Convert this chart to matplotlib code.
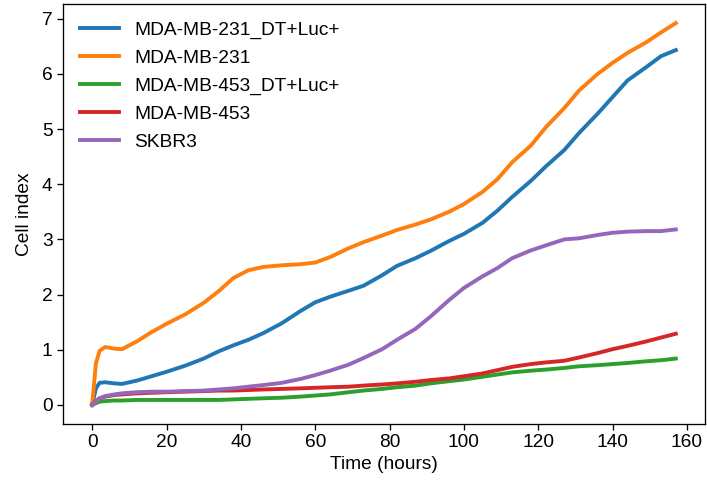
import matplotlib
matplotlib.use("Agg")
import matplotlib.pyplot as plt

plt.rcParams['font.family'] = ['Liberation Sans', 'DejaVu Sans']
plt.rcParams['font.size'] = 13.8
plt.rcParams['axes.linewidth'] = 0.95
plt.rcParams['xtick.major.size'] = 4
plt.rcParams['ytick.major.size'] = 4
plt.rcParams['xtick.major.width'] = 0.95
plt.rcParams['ytick.major.width'] = 0.95

# time points (hours)
hours = [0, 1, 2, 3.5, 6, 8, 12, 16, 20, 25, 30, 34, 38, 42, 46, 51, 56, 60, 64, 69,
         73, 78, 82, 87, 91, 96, 100, 105, 109, 113, 118, 122, 127, 131, 136, 140, 144, 149, 153, 157]

# cell index per line
mda231_dt = [0, 0.3, 0.4, 0.41, 0.39, 0.38, 0.44, 0.52, 0.6, 0.71, 0.84, 0.97, 1.08, 1.18, 1.3, 1.48, 1.7, 1.86, 1.96, 2.07,
             2.16, 2.35, 2.52, 2.66, 2.79, 2.97, 3.1, 3.3, 3.52, 3.77, 4.06, 4.32, 4.62, 4.93, 5.28, 5.58, 5.88, 6.12, 6.32, 6.43]
mda231 = [0, 0.75, 0.98, 1.05, 1.02, 1.01, 1.15, 1.32, 1.47, 1.64, 1.85, 2.06, 2.3, 2.44, 2.5, 2.53, 2.55, 2.58, 2.68, 2.84,
          2.95, 3.07, 3.17, 3.27, 3.36, 3.5, 3.64, 3.86, 4.09, 4.4, 4.7, 5.03, 5.38, 5.7, 6.0, 6.2, 6.38, 6.57, 6.75, 6.92]
mda453_dt = [0, 0.03, 0.06, 0.07, 0.08, 0.08, 0.09, 0.09, 0.09, 0.09, 0.09, 0.09, 0.1, 0.11, 0.12, 0.13, 0.15, 0.17, 0.19, 0.23,
             0.26, 0.29, 0.32, 0.35, 0.39, 0.43, 0.46, 0.51, 0.55, 0.59, 0.62, 0.64, 0.67, 0.7, 0.72, 0.74, 0.76, 0.79, 0.81, 0.84]
mda453 = [0, 0.07, 0.12, 0.15, 0.18, 0.19, 0.21, 0.22, 0.23, 0.24, 0.25, 0.26, 0.26, 0.27, 0.28, 0.29, 0.3, 0.31, 0.32, 0.33,
          0.35, 0.37, 0.39, 0.42, 0.45, 0.48, 0.52, 0.57, 0.63, 0.69, 0.74, 0.77, 0.8, 0.86, 0.94, 1.01, 1.07, 1.15, 1.22, 1.29]
skbr3 = [0, 0.06, 0.12, 0.16, 0.19, 0.21, 0.23, 0.24, 0.24, 0.25, 0.26, 0.28, 0.3, 0.33, 0.36, 0.4, 0.47, 0.54, 0.62, 0.73,
         0.85, 1.01, 1.18, 1.38, 1.6, 1.9, 2.12, 2.33, 2.48, 2.66, 2.8, 2.89, 3.0, 3.02, 3.08, 3.12, 3.14, 3.15, 3.15, 3.18]

series = [
    ("MDA-MB-231_DT+Luc+", mda231_dt),
    ("MDA-MB-231", mda231),
    ("MDA-MB-453_DT+Luc+", mda453_dt),
    ("MDA-MB-453", mda453),
    ("SKBR3", skbr3),
]

fig, ax = plt.subplots(figsize=(7.07, 4.87), dpi=100)
fig.subplots_adjust(left=63/707, right=705/707, top=1 - 4/487, bottom=1 - 424/487)

for name, vals in series:
    ax.plot(hours, vals, lw=2.8, label=name)

ax.set_xlabel("Time (hours)", labelpad=3)
ax.set_ylabel("Cell index", labelpad=6)
ax.set_xticks(range(0, 161, 20))
ax.set_yticks(range(0, 8))
ax.legend(loc="upper left", frameon=False, handlelength=2.0, labelspacing=0.55)

fig.savefig("out.png", dpi=100)
